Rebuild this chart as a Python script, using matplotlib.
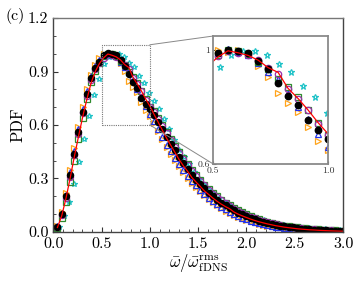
import numpy as np
import matplotlib
matplotlib.use("Agg")
from matplotlib import pyplot as plt
from matplotlib.patches import Rectangle, ConnectionPatch

plt.rcParams["font.family"] = "serif"
plt.rcParams["font.serif"] = ["cmr10", "DejaVu Serif"]
plt.rcParams["mathtext.fontset"] = "cm"
plt.rcParams["axes.formatter.use_mathtext"] = True

# common bin centres (all cases except the cyan one)
x = [0.043, 0.087, 0.130, 0.174, 0.217, 0.261, 0.304, 0.348, 0.391, 0.435,
     0.478, 0.522, 0.565, 0.609, 0.652, 0.696, 0.739, 0.783, 0.826, 0.870,
     0.913, 0.957, 1.000, 1.043, 1.087, 1.130, 1.174, 1.217, 1.261, 1.304,
     1.348, 1.391, 1.435, 1.478, 1.522, 1.565, 1.609, 1.652, 1.696, 1.739,
     1.783, 1.826, 1.870, 1.913, 1.957, 2.000, 2.043, 2.087, 2.130, 2.174,
     2.217, 2.261, 2.304, 2.348, 2.391, 2.435, 2.478, 2.522, 2.565, 2.609,
     2.652, 2.696, 2.739, 2.783, 2.826, 2.870, 2.913, 2.957, 3.000]

# fDNS reference (red line)
pdf_ref = [0.025, 0.09, 0.185, 0.30, 0.42, 0.535, 0.645, 0.745, 0.835, 0.90,
           0.945, 0.977, 0.998, 0.991, 0.982, 0.965, 0.939, 0.922, 0.866, 0.83,
           0.79, 0.745, 0.706, 0.66, 0.615, 0.57, 0.525, 0.485, 0.445, 0.405,
           0.37, 0.34, 0.305, 0.28, 0.255, 0.23, 0.21, 0.19, 0.172, 0.156,
           0.142, 0.13, 0.112, 0.10, 0.09, 0.081, 0.072, 0.064, 0.057, 0.051,
           0.045, 0.040, 0.035, 0.031, 0.027, 0.024, 0.021, 0.018, 0.016, 0.014,
           0.012, 0.011, 0.0095, 0.0083, 0.0072, 0.0063, 0.0055, 0.0048, 0.0042]

pdf_black = [0.03, 0.10, 0.20, 0.32, 0.44, 0.56, 0.675, 0.775, 0.862, 0.918,
             0.955, 0.99, 1.002, 0.998, 0.992, 0.963, 0.933, 0.885, 0.84, 0.806,
             0.754, 0.72, 0.688, 0.655, 0.615, 0.575, 0.535, 0.495, 0.457, 0.42,
             0.385, 0.352, 0.322, 0.294, 0.268, 0.244, 0.221, 0.201, 0.182, 0.165,
             0.149, 0.135, 0.121, 0.109, 0.098, 0.088, 0.079, 0.071, 0.063, 0.057,
             0.051, 0.045, 0.040, 0.036, 0.032, 0.028, 0.025, 0.022, 0.019, 0.017,
             0.015, 0.013, 0.012, 0.010, 0.009, 0.008, 0.007, 0.006, 0.0055]

pdf_purple = [0.028, 0.095, 0.19, 0.31, 0.43, 0.55, 0.665, 0.765, 0.855, 0.915,
              0.95, 0.978, 0.999, 0.99, 0.983, 0.966, 0.938, 0.916, 0.862, 0.83,
              0.788, 0.74, 0.70, 0.675, 0.635, 0.595, 0.555, 0.515, 0.478, 0.442,
              0.407, 0.374, 0.343, 0.314, 0.286, 0.261, 0.237, 0.215, 0.195, 0.177,
              0.160, 0.145, 0.131, 0.118, 0.106, 0.095, 0.085, 0.076, 0.068, 0.061,
              0.054, 0.048, 0.043, 0.038, 0.034, 0.030, 0.027, 0.024, 0.021, 0.018,
              0.016, 0.014, 0.013, 0.011, 0.010, 0.009, 0.008, 0.007, 0.006]

pdf_green = [0.02, 0.08, 0.17, 0.28, 0.40, 0.52, 0.64, 0.745, 0.84, 0.905,
             0.948, 0.985, 1.0, 0.997, 0.988, 0.958, 0.935, 0.90, 0.871, 0.835,
             0.79, 0.745, 0.70, 0.678, 0.64, 0.60, 0.56, 0.52, 0.483, 0.447,
             0.412, 0.379, 0.348, 0.319, 0.291, 0.266, 0.242, 0.22, 0.2, 0.181,
             0.164, 0.149, 0.135, 0.122, 0.11, 0.099, 0.089, 0.08, 0.072, 0.064,
             0.057, 0.051, 0.046, 0.041, 0.036, 0.032, 0.029, 0.026, 0.023, 0.020,
             0.018, 0.016, 0.014, 0.012, 0.011, 0.010, 0.009, 0.008, 0.007]

pdf_blue = [0.032, 0.105, 0.21, 0.335, 0.455, 0.575, 0.69, 0.79, 0.873, 0.93,
            0.965, 0.99, 1.003, 0.995, 0.985, 0.955, 0.925, 0.90, 0.85, 0.80,
            0.757, 0.705, 0.66, 0.62, 0.575, 0.532, 0.49, 0.452, 0.415, 0.38,
            0.347, 0.316, 0.288, 0.262, 0.237, 0.214, 0.193, 0.174, 0.156, 0.14,
            0.126, 0.113, 0.101, 0.09, 0.08, 0.071, 0.063, 0.056, 0.05, 0.044,
            0.039, 0.034, 0.03, 0.026, 0.023, 0.02, 0.018, 0.016, 0.014, 0.012,
            0.011, 0.009, 0.008, 0.007, 0.006, 0.0055, 0.005, 0.0045, 0.004]

pdf_orange = [0.035, 0.11, 0.22, 0.345, 0.47, 0.59, 0.70, 0.80, 0.88, 0.935,
              0.975, 1.0, 0.995, 1.0, 0.988, 0.945, 0.905, 0.848, 0.815, 0.784,
              0.73, 0.682, 0.65, 0.61, 0.565, 0.52, 0.478, 0.44, 0.403, 0.368,
              0.335, 0.305, 0.277, 0.251, 0.227, 0.205, 0.185, 0.166, 0.149, 0.134,
              0.12, 0.107, 0.096, 0.085, 0.076, 0.067, 0.06, 0.053, 0.047, 0.041,
              0.036, 0.032, 0.028, 0.025, 0.022, 0.019, 0.017, 0.015, 0.013, 0.011,
              0.01, 0.009, 0.008, 0.007, 0.006, 0.0055, 0.005, 0.0045, 0.004]

# cyan case has its own (wider) bins
x_cyan = [0.062, 0.114, 0.165, 0.217, 0.269, 0.321, 0.373, 0.424, 0.476, 0.528,
          0.580, 0.632, 0.683, 0.735, 0.787, 0.839, 0.891, 0.942, 0.994, 1.046,
          1.098, 1.150, 1.201, 1.253, 1.305, 1.357, 1.409, 1.460, 1.512, 1.564,
          1.616, 1.668, 1.720, 1.771, 1.823, 1.875, 1.927, 1.979, 2.030, 2.082,
          2.134, 2.186, 2.238, 2.290, 2.341, 2.393, 2.445, 2.497, 2.549, 2.600,
          2.652, 2.704, 2.756, 2.808, 2.859, 2.911, 2.963]
pdf_cyan = [0.025, 0.09, 0.17, 0.27, 0.39, 0.52, 0.65, 0.77, 0.86, 0.941,
            0.982, 0.998, 0.998, 0.982, 0.95, 0.925, 0.874, 0.837, 0.778, 0.735,
            0.69, 0.635, 0.575, 0.515, 0.46, 0.42, 0.38, 0.335, 0.295, 0.265,
            0.237, 0.212, 0.19, 0.17, 0.152, 0.135, 0.12, 0.107, 0.095, 0.084,
            0.074, 0.065, 0.057, 0.05, 0.044, 0.039, 0.034, 0.03, 0.026, 0.023,
            0.02, 0.018, 0.016, 0.014, 0.012, 0.011, 0.0095]


def draw_cases(ax, ms):
    mk = dict(linestyle="none", markersize=ms, markeredgewidth=0.9, markerfacecolor="none")
    ax.plot(x_cyan, pdf_cyan, marker="*", color="#22c3c8", **mk)
    ax.plot(x, pdf_orange, marker=">", color="#ffa41c", **mk)
    ax.plot(x, pdf_blue, marker="^", color="#2233ee", **mk)
    ax.plot(x, pdf_green, marker="s", color="#2e8b2e", **mk)
    ax.plot(x, pdf_purple, marker="o", color="#9a2fa8", **mk)
    ax.plot(x, pdf_black, marker="o", color="black", linestyle="none",
            markersize=ms, markerfacecolor="black")
    ax.plot(x, pdf_ref, color="red", linewidth=0.9)


fig = plt.figure(figsize=(3.6, 2.86), dpi=100)
ax = fig.add_axes([0.148, 0.189, 0.805, 0.748])
draw_cases(ax, 4.4)

ax.set_xlim(0, 3.0)
ax.set_ylim(0, 1.2)
ax.set_xticks([0.0, 0.5, 1.0, 1.5, 2.0, 2.5, 3.0])
ax.set_xticklabels(["0.0", "0.5", "1.0", "1.5", "2.0", "2.5", "3.0"])
ax.set_yticks([0.0, 0.3, 0.6, 0.9, 1.2])
ax.set_yticklabels(["0.0", "0.3", "0.6", "0.9", "1.2"])
ax.set_xticks(np.arange(0, 3.01, 0.1), minor=True)
ax.set_yticks(np.arange(0, 1.21, 0.1), minor=True)
ax.tick_params(which="both", direction="in", labelsize=11.5, color="#333333",
               labelcolor="black")
ax.tick_params(which="major", length=3.5)
ax.tick_params(which="minor", length=2)
for s in ax.spines.values():
    s.set_color("#444444")
    s.set_linewidth(1.0)
ax.spines["top"].set_color("#777777")
ax.set_ylabel("PDF", fontsize=12, labelpad=2)
ax.set_xlabel(r"$\bar{\omega}/\bar{\omega}^{\rm rms}_{\rm fDNS}$", fontsize=12, labelpad=1)
fig.text(0.015, 0.945, "(c)", fontsize=11.5, ha="left", va="center")

# zoom box
ax.add_patch(Rectangle((0.5, 0.6), 0.5, 0.45, fill=False, edgecolor="#777777",
                       linestyle=(0, (1, 1)), linewidth=0.8, zorder=5))

ins = fig.add_axes([0.592, 0.427, 0.319, 0.447])
draw_cases(ins, 4.6)
ins.set_xlim(0.5, 1.0)
ins.set_ylim(0.6, 1.05)
ins.set_xticks([0.5, 1.0])
ins.set_xticklabels(["0.5", "1.0"])
ins.set_yticks([0.6, 1.0])
ins.set_yticklabels(["0.6", "1"])
ins.tick_params(direction="in", labelsize=7, length=2.5, pad=2, color="#444444",
                labelcolor="#333333")
for s in ins.spines.values():
    s.set_color("#8a8a8a")
    s.set_linewidth(1.3)

for ya, yb in [(1.05, 1.0), (0.6, 0.0)]:
    con = ConnectionPatch(xyA=(1.0, ya), coordsA=ax.transData,
                          xyB=(0.0, yb), coordsB=ins.transAxes,
                          color="#888888", linewidth=0.7)
    fig.add_artist(con)

fig.savefig("out.png", dpi=100)
